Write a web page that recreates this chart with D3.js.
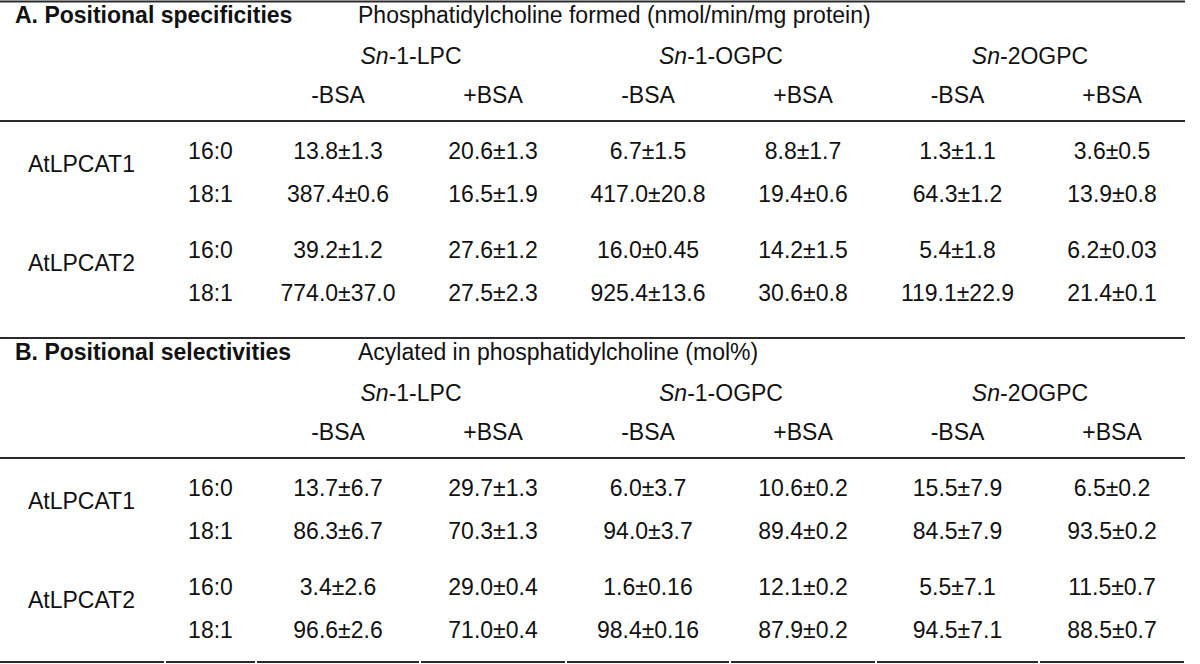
<!DOCTYPE html>
<html>
<head>
<meta charset="utf-8">
<script src="https://cdn.jsdelivr.net/npm/d3@7/dist/d3.min.js"></script>
<style>
  html, body { margin: 0; padding: 0; background: #fff; }
  svg { display: block; }
  text { font-family: "Liberation Sans", Arial, sans-serif; fill: #111; }
</style>
</head>
<body>
<svg id="chart" width="1200" height="664"></svg>
<script>
// ---------- data ----------
const enzymes = ["AtLPCAT1", "AtLPCAT2"];
const acylGroups = ["16:0", "18:1"];
const substrates = [
  { italic: "Sn", rest: "-1-LPC" },
  { italic: "Sn", rest: "-1-OGPC" },
  { italic: "Sn", rest: "-2OGPC" }
];
const conditions = ["-BSA", "+BSA"];

const panelTitles = ["A. Positional specificities", "B. Positional selectivities"];
const panelSubtitles = [
  "Phosphatidylcholine formed (nmol/min/mg protein)",
  "Acylated in phosphatidylcholine (mol%)"
];

// Panel A: rows = AtLPCAT1 16:0, AtLPCAT1 18:1, AtLPCAT2 16:0, AtLPCAT2 18:1
const specificityValues = [
  ["13.8±1.3", "20.6±1.3", "6.7±1.5", "8.8±1.7", "1.3±1.1", "3.6±0.5"],
  ["387.4±0.6", "16.5±1.9", "417.0±20.8", "19.4±0.6", "64.3±1.2", "13.9±0.8"],
  ["39.2±1.2", "27.6±1.2", "16.0±0.45", "14.2±1.5", "5.4±1.8", "6.2±0.03"],
  ["774.0±37.0", "27.5±2.3", "925.4±13.6", "30.6±0.8", "119.1±22.9", "21.4±0.1"]
];
// Panel B
const selectivityValues = [
  ["13.7±6.7", "29.7±1.3", "6.0±3.7", "10.6±0.2", "15.5±7.9", "6.5±0.2"],
  ["86.3±6.7", "70.3±1.3", "94.0±3.7", "89.4±0.2", "84.5±7.9", "93.5±0.2"],
  ["3.4±2.6", "29.0±0.4", "1.6±0.16", "12.1±0.2", "5.5±7.1", "11.5±0.7"],
  ["96.6±2.6", "71.0±0.4", "98.4±0.16", "87.9±0.2", "94.5±7.1", "88.5±0.7"]
];

// ---------- layout ----------
const svg = d3.select("#chart");
const FS = 23;

const colKeys = ["label", "acyl", "c0", "c1", "c2", "c3", "c4", "c5"];
const colEdges = [0, 165, 256, 420, 566, 730, 876, 1039, 1185];
const colCenter = d3.scaleOrdinal()
  .domain(colKeys)
  .range(colKeys.map((k, i) => (colEdges[i] + colEdges[i + 1]) / 2));
const xLine = d3.scaleLinear().domain([0, 1]).range([colEdges[0], colEdges[colEdges.length - 1]]);

// relative row offsets within a panel
const rowKeys = ["title", "substrate", "condition", "rule", "r0", "r1", "r2", "r3"];
const rowY = d3.scaleOrdinal().domain(rowKeys).range([15, 56, 95, 121, 151, 194, 250, 293]);
const panelOffset = d3.scaleOrdinal().domain([0, 1]).range([0, 337]);

const panels = [specificityValues, selectivityValues];

function addText(g, x, y, str, opts = {}) {
  return g.append("text")
    .attr("x", x).attr("y", y)
    .attr("dy", "0.36em")
    .attr("font-size", FS)
    .attr("font-weight", opts.bold ? "bold" : null)
    .attr("text-anchor", opts.anchor || "middle")
    .text(str);
}

function drawRule(y) {
  svg.append("line")
    .attr("x1", xLine(0)).attr("x2", xLine(1))
    .attr("y1", y).attr("y2", y)
    .attr("stroke", "#2a2a2a").attr("stroke-width", 2);
}

drawRule(1.5);

panels.forEach((vals, p) => {
  const g = svg.append("g").attr("transform", `translate(0,${panelOffset(p)})`);
  addText(g, 15, rowY("title"), panelTitles[p], { bold: true, anchor: "start" });
  addText(g, 358, rowY("title"), panelSubtitles[p], { anchor: "start" });

  substrates.forEach((s, i) => {
    const cx = colEdges[3 + 2 * i] - 9;
    const t = g.append("text")
      .attr("x", cx).attr("y", rowY("substrate")).attr("dy", "0.36em")
      .attr("font-size", FS).attr("text-anchor", "middle");
    t.append("tspan").attr("font-style", "italic").text(s.italic);
    t.append("tspan").text(s.rest);
  });

  for (let i = 0; i < 6; i++) {
    addText(g, colCenter("c" + i), rowY("condition"), conditions[i % 2]);
  }

  g.append("line")
    .attr("x1", xLine(0)).attr("x2", xLine(1))
    .attr("y1", rowY("rule")).attr("y2", rowY("rule"))
    .attr("stroke", "#2a2a2a").attr("stroke-width", 2);

  enzymes.forEach((e, ei) => {
    const yA = rowY("r" + (ei * 2));
    const yB = rowY("r" + (ei * 2 + 1));
    addText(g, 28, yA + (yB - yA) * 0.29, e, { anchor: "start" });
    acylGroups.forEach((a, ai) => {
      const r = ei * 2 + ai;
      const y = rowY("r" + r);
      addText(g, colCenter("acyl"), y, a);
      vals[r].forEach((v, ci) => addText(g, colCenter("c" + ci), y, v));
    });
  });
});

// middle separator (bottom of panel A)
drawRule(338);

// bottom segmented rule
svg.append("g").selectAll("line")
  .data(colKeys)
  .join("line")
  .attr("x1", (d, i) => colEdges[i] + (i === 0 ? 0 : 1))
  .attr("x2", (d, i) => colEdges[i + 1] - 1)
  .attr("y1", 662).attr("y2", 662)
  .attr("stroke", "#2a2a2a").attr("stroke-width", 2);
</script>
</body>
</html>
